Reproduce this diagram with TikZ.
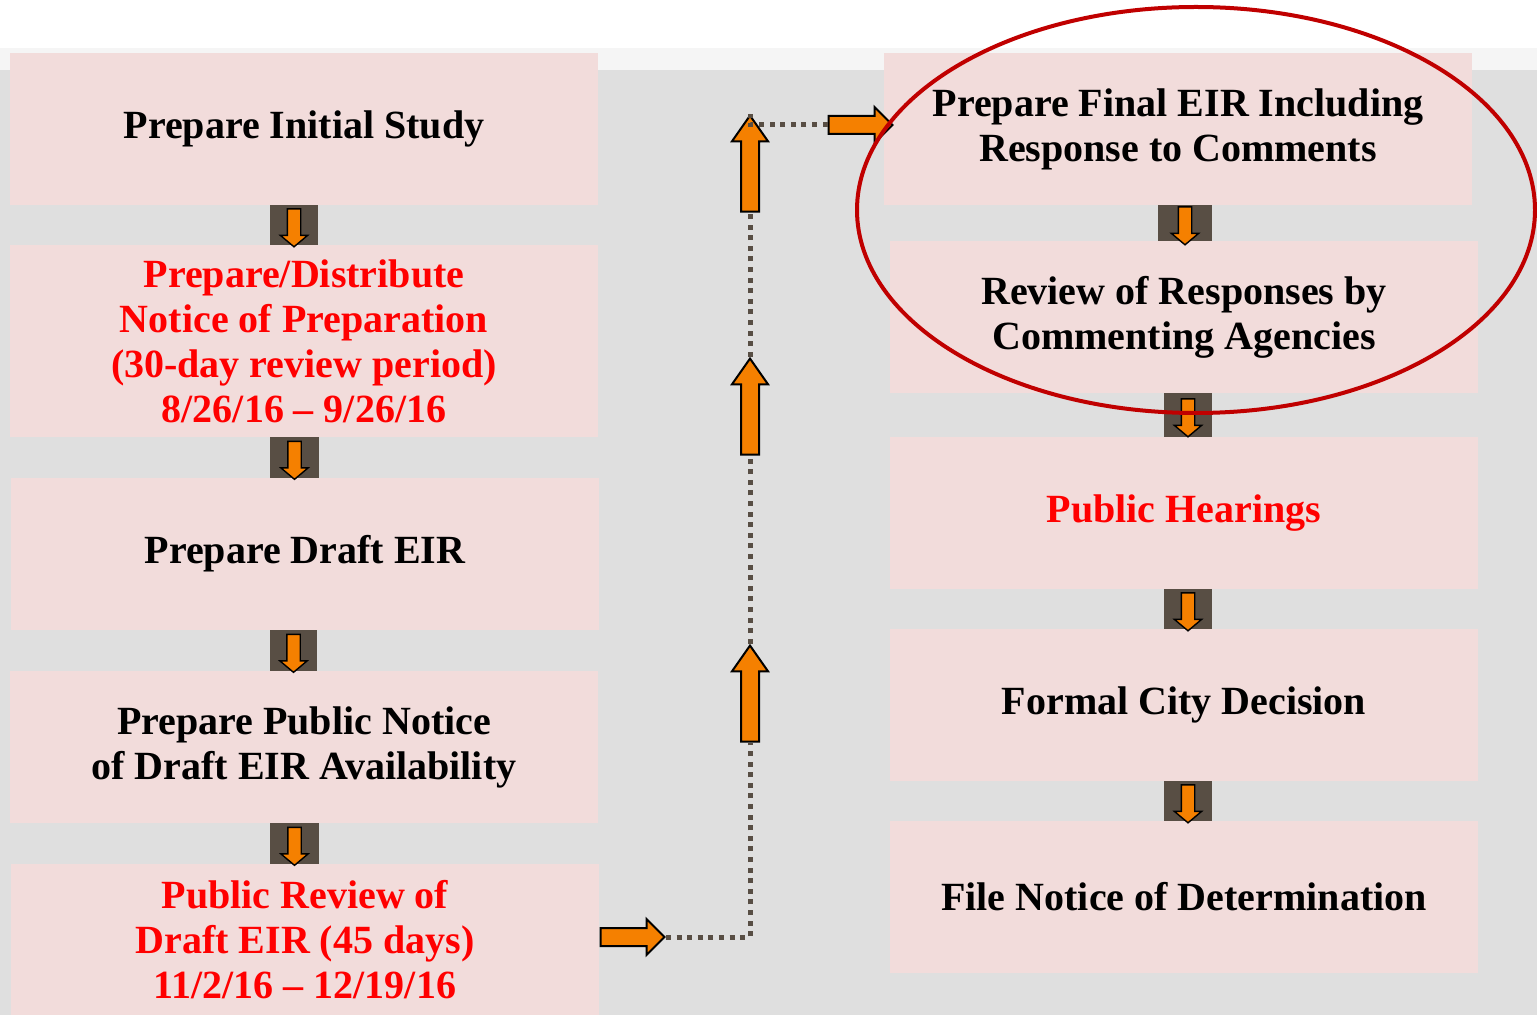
\documentclass[tikz,border=0pt]{standalone}
\usepackage{fontspec}
\setmainfont{Liberation Serif}
\usetikzlibrary{shapes.arrows,calc}
\definecolor{boxpink}{RGB}{242,220,219}
\definecolor{bggray}{RGB}{223,223,223}
\definecolor{bandgray}{RGB}{245,245,245}
\definecolor{darkbrown}{RGB}{88,78,68}
\definecolor{arroworange}{RGB}{245,128,0}
\definecolor{ringred}{RGB}{192,0,0}
\tikzset{
  stepbox/.style={fill=boxpink,minimum width=294pt,minimum height=76pt,inner sep=0pt,
                  align=center,font=\fontsize{20}{22.5}\selectfont\bfseries},
  redtext/.style={text=red},
  smallarrow/.style={single arrow,draw=black,fill=arroworange,line width=0.7pt,inner sep=0pt,
                  text width=6pt,text height=6pt,text depth=0pt,minimum height=19pt,
                  single arrow head extend=3.5pt,single arrow tip angle=100,shape border rotate=270},
  bigarrow/.style={single arrow,draw=black,fill=arroworange,line width=1pt,inner sep=0pt,
                  text width=8pt,text height=8pt,text depth=0pt,
                  single arrow head extend=4.5pt,single arrow tip angle=90},
  dots/.style={darkbrown,line width=2.5pt,dash pattern=on 2.5pt off 2.8pt}
}
\begin{document}
\begin{tikzpicture}[x=0.5pt,y=-0.5pt]
    \useasboundingbox (0,0) rectangle (1537,1015);
    \fill[white] (0,0) rectangle (1537,1015);
    \fill[bandgray] (0,48) rectangle (1537,70);
    \fill[bggray] (0,70) rectangle (1537,1015);

    % left column
    \node[stepbox] (l1) at (304,129) {Prepare Initial Study};
    \node[stepbox,redtext,minimum height=96pt] (l2) at (304,341)
        {Prepare/Distribute\\Notice of Preparation\\(30-day review period)\\8/26/16 – 9/26/16};
    \node[stepbox] (l3) at (305,554) {Prepare Draft EIR};
    \node[stepbox] (l4) at (304,747) {Prepare Public Notice\\of Draft EIR Availability};
    \node[stepbox,redtext] (l5) at (305,940) {Public Review of\\Draft EIR (45 days)\\11/2/16 – 12/19/16};

    % right column
    \node[stepbox] (r1) at (1178,129) {Prepare Final EIR Including\\Response to Comments};
    \node[stepbox] (r2) at (1184,317) {Review of Responses by\\Commenting Agencies};
    \node[stepbox,redtext] (r3) at (1184,513) {Public Hearings};
    \node[stepbox] (r4) at (1184,705) {Formal City Decision};
    \node[stepbox] (r5) at (1184,897) {File Notice of Determination};

    % small down arrows between the steps
    \foreach \a/\b/\s in {l1/l2/-10,l2/l3/-10,l3/l4/-11,l4/l5/-10,r1/r2/4,r2/r3/4,r3/r4/4,r4/r5/4}{
        \fill[darkbrown] ($(\a.south)+(\s-24,0)$) rectangle ($(\b.north)+(\s+24,0)$);
        \node[smallarrow] at ($(\a.south)!.5!(\b.north)+(\s,0)$) {};
    }

    % link from the left column up to the right one
    \node[bigarrow,minimum height=32pt] (pa) at (628,937) {};
    \node[bigarrow,minimum height=48pt,shape border rotate=90,single arrow tip angle=70] (ua) at (750,700) {};
    \node[bigarrow,minimum height=48pt,shape border rotate=90,single arrow tip angle=70] (ub) at (750,413) {};
    \node[bigarrow,minimum height=48pt,shape border rotate=90,single arrow tip angle=70] (uc) at (750,170) {};
    \node[bigarrow,minimum height=32pt] (pb) at (856,125) {};
    \draw[dots] (pa.tip) -| (ua.tail);
    \draw[dots] (ua.tip) -- (ub.tail);
    \draw[dots] (ub.tip) -- (uc.tail);
    \draw[dots] (pb.tail) -| (uc.tip);

    \draw[ringred,line width=2pt] (1196,210) ellipse [x radius=339,y radius=203];
\end{tikzpicture}
\end{document}
